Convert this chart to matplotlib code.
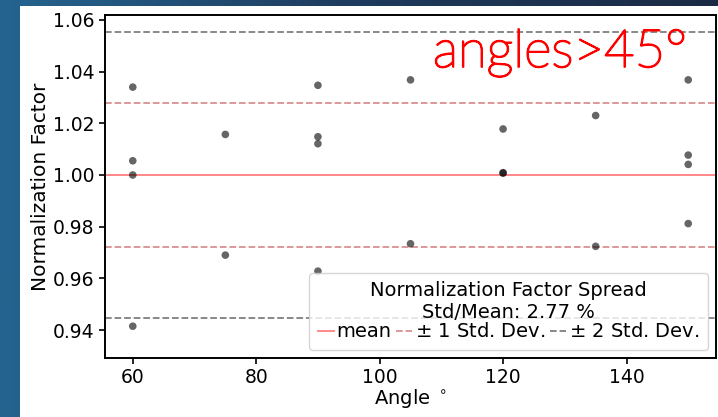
import numpy as np
import matplotlib
matplotlib.use('Agg')
import matplotlib.pyplot as plt
import matplotlib.patheffects as pe
from matplotlib.patches import Rectangle

# values
angles = [60, 60, 60, 60, 75, 75, 90, 90, 90, 90, 105, 105,
          120, 120, 120, 135, 135, 150, 150, 150, 150]
norm_factor = [1.034, 1.0055, 1.000, 0.9415, 1.0157, 0.969,
               1.0347, 1.0148, 1.0121, 0.9628, 1.0368, 0.9734,
               1.0178, 1.0009, 1.0007, 1.023, 0.9724,
               1.0368, 1.0077, 1.0041, 0.9812]
mean_val = 1.0
std_val = 0.0277
x_ticks = [60, 80, 100, 120, 140]
y_ticks = [0.94, 0.96, 0.98, 1.00, 1.02, 1.04, 1.06]

fig = plt.figure(figsize=(7.18, 4.17), dpi=100)

# slide background: blue gradient behind a white figure panel
bg = fig.add_axes([0, 0, 1, 1], zorder=-10)
grad = np.linspace(0, 1, 256)[None, :]
cmap = matplotlib.colors.LinearSegmentedColormap.from_list('slide', ['#256490', '#1e3a5c', '#1b2a44'])
bg.imshow(grad, aspect='auto', cmap=cmap, extent=[0, 1, 0, 1])
bg.set_axis_off()
fig.patches.append(Rectangle((20 / 718, 0), 1, 1 - 6 / 417, transform=fig.transFigure,
                             facecolor='white', edgecolor='none', zorder=-5))

ax = fig.add_axes([105 / 718, 59 / 417, 611 / 718, 343 / 417])
ax.scatter(angles, norm_factor, s=30, color='k', alpha=0.6, edgecolors='none', zorder=3)

ax.axhline(mean_val, color='r', alpha=0.5, lw=1.3, label='mean')
ax.axhline(mean_val + std_val, color='firebrick', alpha=0.5, ls='--', lw=1.3, label=r'$\pm$ 1 Std. Dev.')
ax.axhline(mean_val - std_val, color='firebrick', alpha=0.5, ls='--', lw=1.3)
ax.axhline(mean_val + 2 * std_val, color='k', alpha=0.5, ls='--', lw=1.3, label=r'$\pm$ 2 Std. Dev.')
ax.axhline(mean_val - 2 * std_val, color='k', alpha=0.5, ls='--', lw=1.3)

ax.set_xlim(55.5, 154.5)
ax.set_ylim(0.9292, 1.0619)
ax.set_xticks(x_ticks)
ax.set_yticks(y_ticks)
ax.set_yticklabels([f'{v:.2f}' for v in y_ticks])
ax.tick_params(labelsize=13.5, width=1.2, length=4)
for sp in ax.spines.values():
    sp.set_linewidth(1.4)
ax.set_xlabel(r'Angle $^\circ$', fontsize=14, labelpad=0)
ax.set_ylabel('Normalization Factor', fontsize=14.5, labelpad=2)

leg = ax.legend(loc='lower right', ncol=3, fontsize=14, title_fontsize=14,
                title=f'Normalization Factor Spread\nStd/Mean: {std_val / mean_val * 100:.2f} %',
                handlelength=0.8, handletextpad=0.15, columnspacing=0.25,
                borderpad=0.45, labelspacing=0.1, framealpha=0.8, borderaxespad=0.4)
leg.get_title().set_multialignment('center')
leg._legend_box.sep = 0

fig.text(433 / 718, 1 - 67 / 417, 'angles>45°', color='red', fontsize=38,
         family='Lato', fontweight='light', ha='left', va='baseline',
         path_effects=[pe.withStroke(linewidth=1.3, foreground='red')])

fig.savefig('out.png', dpi=100)
